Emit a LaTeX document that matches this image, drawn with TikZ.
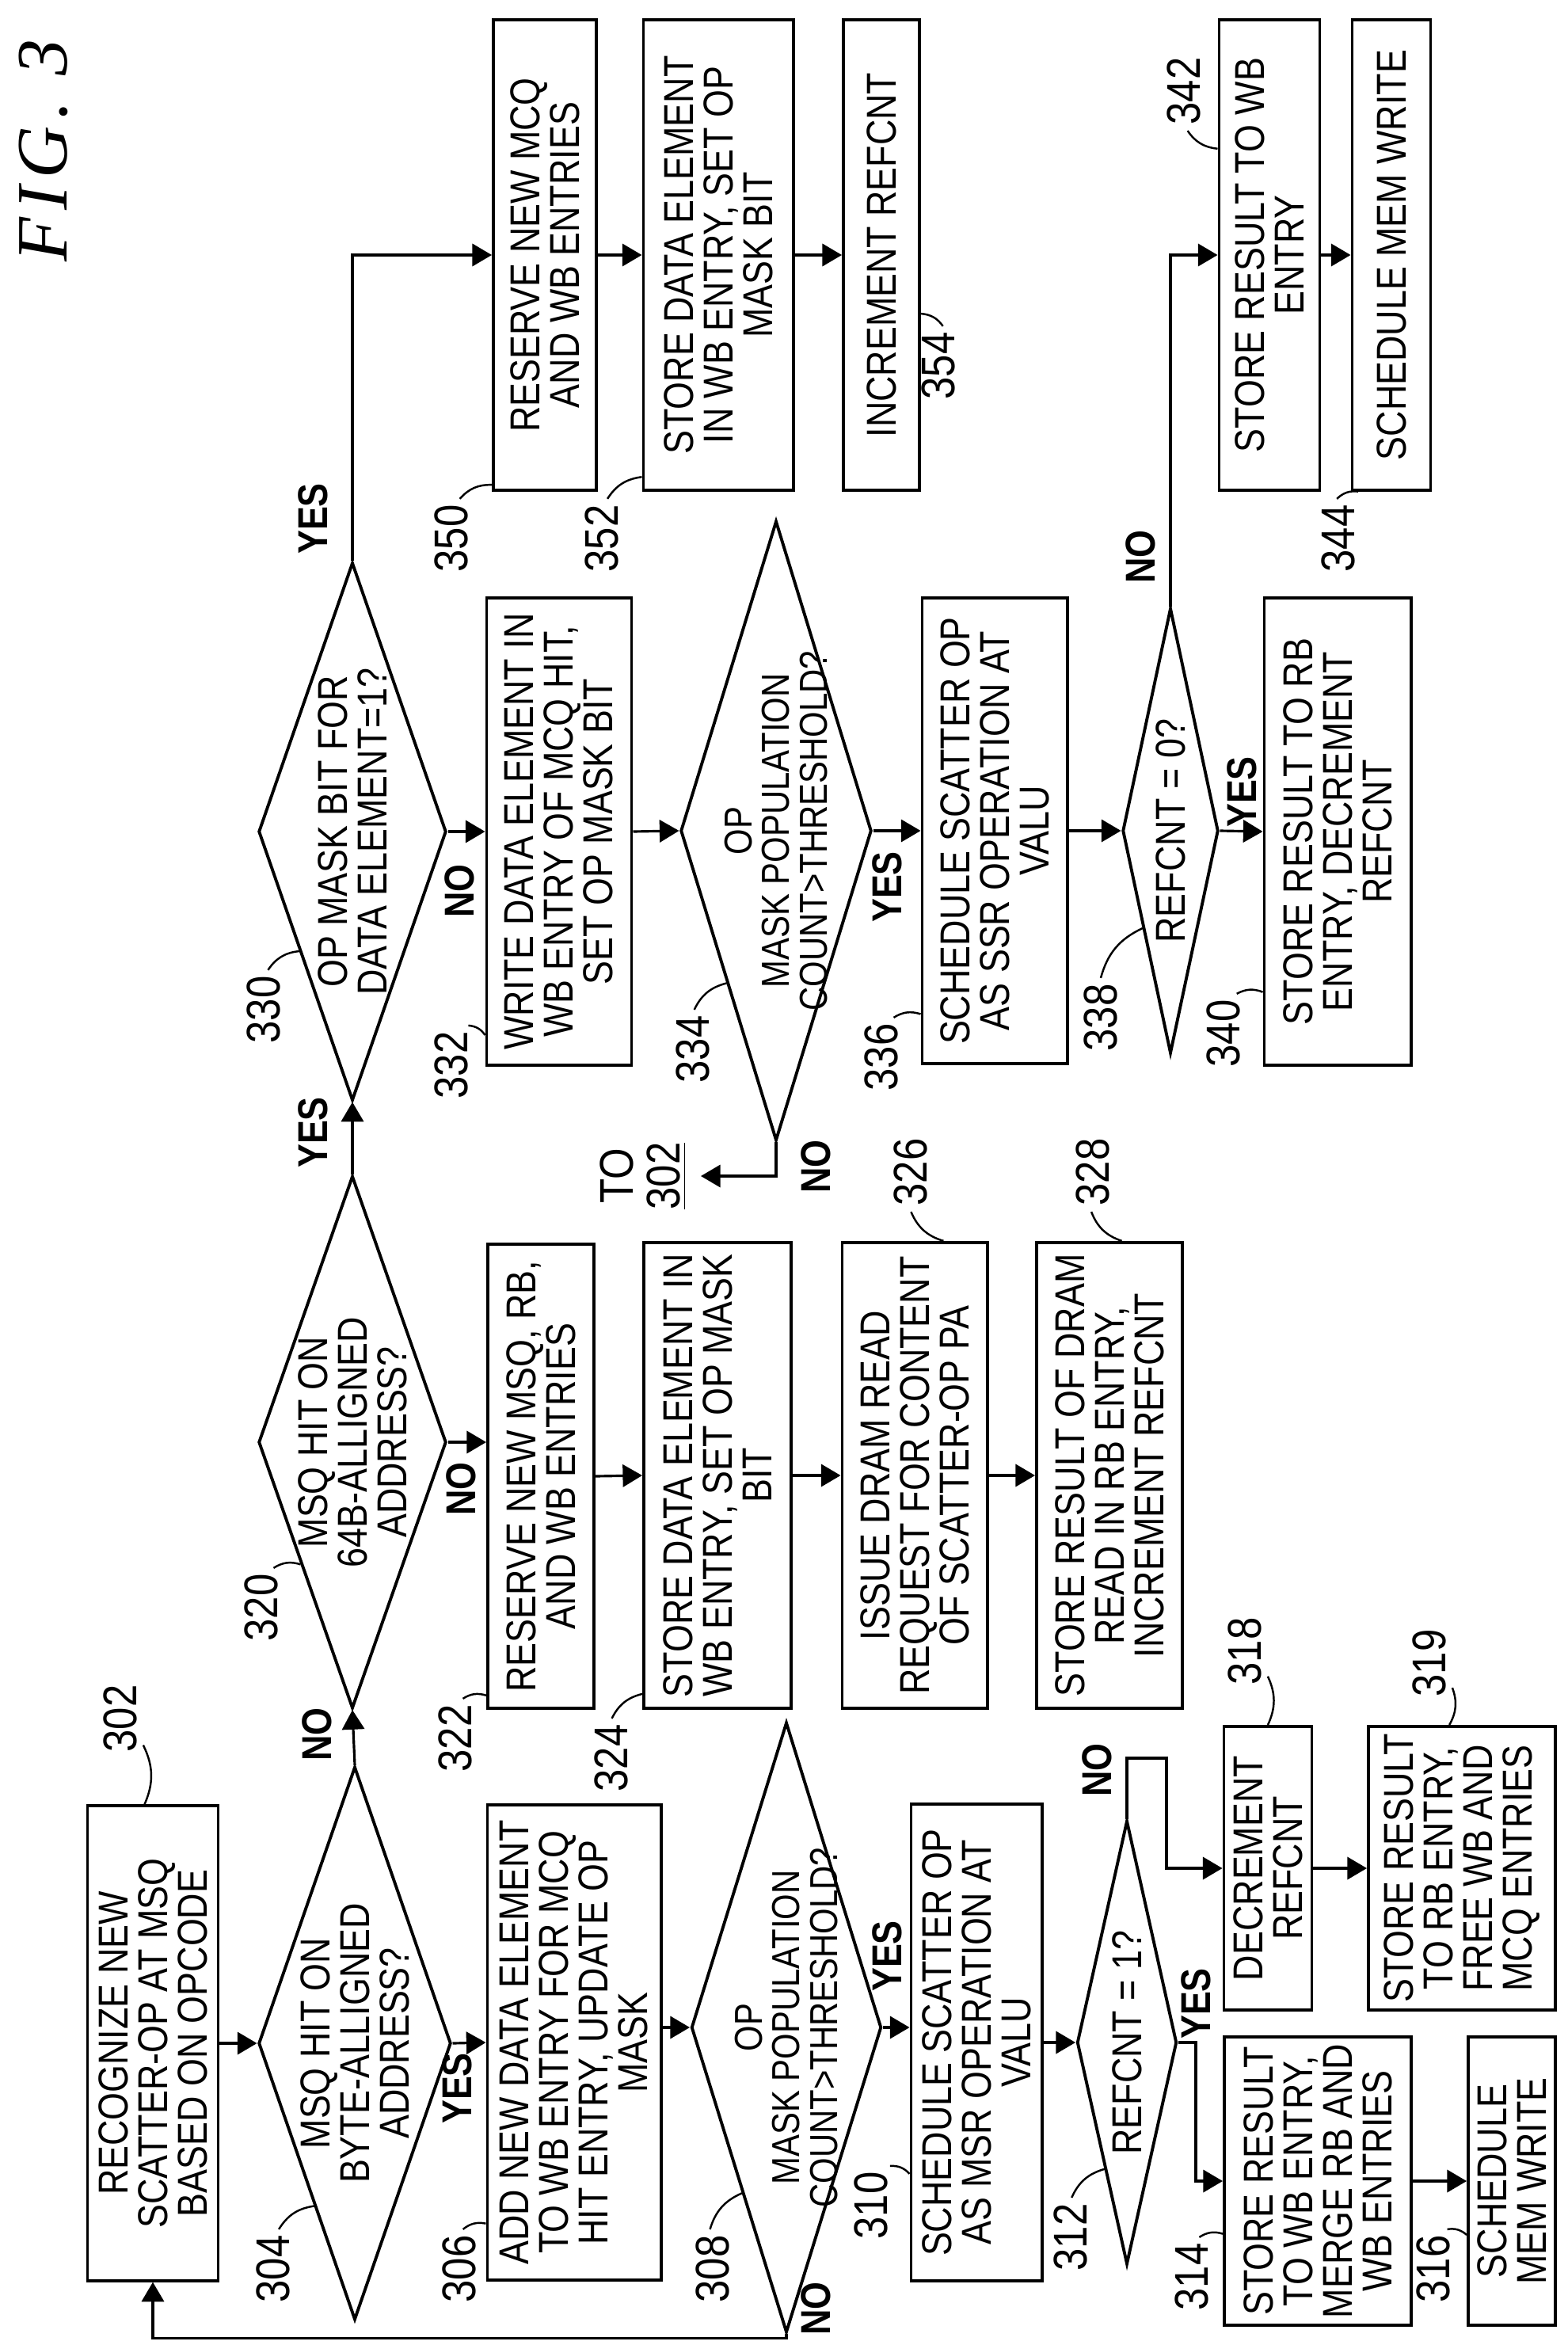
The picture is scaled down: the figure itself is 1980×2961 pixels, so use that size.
\documentclass[tikz,border=0pt]{standalone}
\usepackage{fontspec}
\setmainfont{Liberation Sans}[FakeStretch=0.85]
\newfontfamily\figfont{Liberation Serif}[LetterSpace=10]
\usetikzlibrary{shapes.geometric,arrows.meta}
\newcommand{\flowfont}{\fontsize{15}{14.2}\selectfont}
\tikzset{
  box/.style={draw, line width=1.1pt, rotate=90, align=center, inner sep=0pt, font=\flowfont},
  dia/.style={draw, diamond, line width=1.1pt, rotate=90, inner sep=0pt},
  txt/.style={rotate=90, align=center, inner sep=1pt, font=\flowfont},
  num/.style={rotate=90, inner sep=2pt, font=\fontsize{17}{17}\selectfont},
  yn/.style={rotate=90, inner sep=1pt, font=\bfseries\fontsize{15}{15}\selectfont},
  arr/.style={line width=0.9pt, -{Triangle[length=7pt,width=8pt]}},
  lead/.style={line width=0.7pt}
}
\begin{document}
\begin{tikzpicture}[x=0.01cm, y=-0.01cm]
\useasboundingbox (0,0) rectangle (1980,2961);
\node[rotate=90, font=\figfont\itshape\fontsize{26}{26}\selectfont] (fig) at (55,190) {FIG. 3};
% first row
\node[box, minimum width=5.99cm, minimum height=1.65cm] (b302) at (193,2580) {RECOGNIZE NEW\\SCATTER-OP AT MSQ\\BASED ON OPCODE};
\node[dia, minimum width=6.98cm, minimum height=2.43cm] (d304) at (448,2580) {};
\node[txt] (t304) at (d304) {MSQ HIT ON\\BYTE-ALLIGNED\\ADDRESS?};
\node[box, minimum width=6.0cm, minimum height=2.19cm] (b306) at (725,2579) {ADD NEW DATA ELEMENT\\TO WB ENTRY FOR MCQ\\HIT ENTRY, UPDATE OP\\MASK};
\node[dia, minimum width=7.7cm, minimum height=2.4cm] (d308) at (993,2560) {};
\node[txt, font=\fontsize{14}{13.5}\selectfont] (t308) at (d308) {OP\\MASK POPULATION\\COUNT>THRESHOLD?};
\node[box, minimum width=6.02cm, minimum height=1.65cm] (b310) at (1233,2579) {SCHEDULE SCATTER OP\\AS MSR OPERATION AT\\VALU};
\node[dia, minimum width=5.6cm, minimum height=1.26cm] (d312) at (1423,2579) {};
\node[txt] (t312) at (d312) {REFCNT = 1?};
\node[box, minimum width=3.63cm, minimum height=2.36cm] (b314) at (1664,2754) {STORE RESULT\\TO WB ENTRY,\\MERGE RB AND\\WB ENTRIES};
\node[box, minimum width=3.63cm, minimum height=1.1cm] (b316) at (1909,2754) {SCHEDULE\\MEM WRITE};
\node[box, minimum width=3.58cm, minimum height=1.11cm] (b318) at (1601,2359) {DECREMENT\\REFCNT};
\node[box, minimum width=3.58cm, minimum height=2.36cm] (b319) at (1846,2359) {STORE RESULT\\TO RB ENTRY,\\FREE WB AND\\MCQ ENTRIES};
% second row
\node[dia, minimum width=6.72cm, minimum height=2.37cm] (d320) at (445,1821) {};
\node[txt] (t320) at (d320) {MSQ HIT ON\\64B-ALLIGNED\\ADDRESS?};
\node[box, minimum width=5.85cm, minimum height=1.34cm] (b322) at (683,1864) {RESERVE NEW MSQ, RB,\\AND WB ENTRIES};
\node[box, minimum width=5.88cm, minimum height=1.86cm] (b324) at (906,1863) {STORE DATA ELEMENT IN\\WB ENTRY, SET OP MASK\\BIT};
\node[box, minimum width=5.88cm, minimum height=1.83cm] (b326) at (1155,1863) {ISSUE DRAM READ\\REQUEST FOR CONTENT\\OF SCATTER-OP PA};
\node[box, minimum width=5.88cm, minimum height=1.84cm] (b328) at (1401,1863) {STORE RESULT OF DRAM\\READ IN RB ENTRY,\\INCREMENT REFCNT};
% third row
\node[dia, minimum width=6.79cm, minimum height=2.37cm] (d330) at (445,1050) {};
\node[txt] (t330) at (d330) {OP MASK BIT FOR\\DATA ELEMENT=1?};
\node[box, minimum width=5.9cm, minimum height=1.83cm] (b332) at (706,1050) {WRITE DATA ELEMENT IN\\WB ENTRY OF MCQ HIT,\\SET OP MASK BIT};
\node[dia, minimum width=7.82cm, minimum height=2.41cm] (d334) at (980,1049) {};
\node[txt, font=\fontsize{14}{13.5}\selectfont] (t334) at (d334) {OP\\MASK POPULATION\\COUNT>THRESHOLD?};
\node[box, minimum width=5.88cm, minimum height=1.83cm] (b336) at (1256,1049) {SCHEDULE SCATTER OP\\AS SSR OPERATION AT\\VALU};
\node[dia, minimum width=5.62cm, minimum height=1.21cm] (d338) at (1478,1049) {};
\node[txt] (t338) at (d338) {REFCNT = 0?};
\node[box, minimum width=5.9cm, minimum height=1.85cm] (b340) at (1689,1050) {STORE RESULT TO RB\\ENTRY, DECREMENT\\REFCNT};
\node[txt, font=\fontsize{17}{17}\selectfont] (to302) at (812,1485) {TO\\\underline{302}};
\coordinate (c302) at (885,1485);
% top row
\node[box, minimum width=5.93cm, minimum height=1.3cm] (b350) at (688,322) {RESERVE NEW MCQ\\AND WB ENTRIES};
\node[box, minimum width=5.93cm, minimum height=1.89cm] (b352) at (907,322) {STORE DATA ELEMENT\\IN WB ENTRY, SET OP\\MASK BIT};
\node[box, minimum width=5.93cm, minimum height=0.96cm] (b354) at (1113,322) {INCREMENT REFCNT};
\node[box, minimum width=5.93cm, minimum height=1.27cm] (b342) at (1603,322) {STORE RESULT TO WB\\ENTRY};
\node[box, minimum width=5.93cm, minimum height=0.99cm] (b344) at (1757,322) {SCHEDULE MEM WRITE};

% connectors
\draw[arr] (b302.south) -- (d304.north);
\draw[arr] (d304.south) -- (b306.north);
\draw[arr] (b306.south |- d308.north) -- (d308.north);
\draw[arr] (d308.south) -- (d308.south -| b310.north);
\draw[arr] (b310.south) -- (d312.north);
\draw[arr] (d312.south) -- ++(22,0) |- (b314.north);
\draw[arr] (d312.east) -- ++(0,-77) -- ++(50,0) |- (b318.north);
\draw[arr] (b318.south) -- (b319.north);
\draw[arr] (b314.south) -- (b316.north);
\draw[arr] (d308.west) -- ++(0,5) -| (b302.west);
\draw[arr] (d304.east) -- (d320.west);
\draw[arr] (d320.south) -- (d320.south -| b322.north);
\draw[arr] (b322.south) -- (b324.north);
\draw[arr] (b324.south) -- (b326.north);
\draw[arr] (b326.south) -- (b328.north);
\draw[arr] (d320.east) -- (d330.west);
\draw[arr] (d330.south) -- (b332.north);
\draw[arr] (b332.south) -- (d334.north);
\draw[arr] (d334.south) -- (b336.north);
\draw[arr] (b336.south) -- (d338.north);
\draw[arr] (d338.south) -- (b340.north);
\draw[arr] (d334.west) |- (c302);
\draw[arr] (d330.east) |- (b350.north);
\draw[arr] (b350.south) -- (b352.north);
\draw[arr] (b352.south) -- (b354.north);
\draw[arr] (d338.east) |- (b342.north);
\draw[arr] (b342.south) -- (b344.north);

% yes / no
\node[yn] at (577,2637) {YES};
\node[yn] at (400,2190) {NO};
\node[yn] at (1120,2470) {YES};
\node[yn] at (1030,2915) {NO};
\node[yn] at (1510,2530) {YES};
\node[yn] at (1385,2235) {NO};
\node[yn] at (395,1430) {YES};
\node[yn] at (582,1880) {NO};
\node[yn] at (580,1125) {NO};
\node[yn] at (395,655) {YES};
\node[yn] at (1120,1120) {YES};
\node[yn] at (1030,1473) {NO};
\node[yn] at (1568,1000) {YES};
\node[yn] at (1440,703) {NO};

% reference numbers
\node[num] (n302) at (152,2170) {302};
\node[num] (n304) at (345,2865) {304};
\node[num] (n306) at (580,2865) {306};
\node[num] (n308) at (900,2865) {308};
\node[num] (n310) at (1100,2785) {310};
\node[num] (n312) at (1352,2825) {312};
\node[num] (n314) at (1505,2875) {314};
\node[num] (n316) at (1810,2865) {316};
\node[num] (n318) at (1572,2085) {318};
\node[num] (n319) at (1805,2100) {319};
\node[num] (n320) at (330,2030) {320};
\node[num] (n322) at (575,2195) {322};
\node[num] (n324) at (772,2220) {324};
\node[num] (n326) at (1150,1480) {326};
\node[num] (n328) at (1380,1480) {328};
\node[num] (n330) at (333,1275) {330};
\node[num] (n332) at (570,1345) {332};
\node[num] (n334) at (875,1325) {334};
\node[num] (n336) at (1113,1335) {336};
\node[num] (n338) at (1390,1285) {338};
\node[num] (n340) at (1545,1305) {340};
\node[num] (n342) at (1495,115) {342};
\node[num] (n344) at (1690,680) {344};
\node[num] (n350) at (570,680) {350};
\node[num] (n352) at (760,680) {352};
\node[num] (n354) at (1185,462) {354};
\draw[lead] (n302) to[bend left=25] (b302.2);
\draw[lead] (n304) to[bend left=25] (d304.166);
\draw[lead] (n306) to[bend left=25] (b306.154);
\draw[lead] (n308) to[bend left=25] (d308.165);
\draw[lead] (n310) to[bend left=25] (b310.153);
\draw[lead] (n312) to[bend left=25] (d312.170);
\draw[lead] (n314) to[bend left=25] (b314.119);
\draw[lead] (n316) to[bend left=25] (b316.140);
\draw[lead] (n318) to[bend left=25] (b318.0);
\draw[lead] (n319) to[bend left=25] (b319.5);
\draw[lead] (n320) to[bend left=25] (d320.157);
\draw[lead] (n322) to[bend left=25] (b322.166);
\draw[lead] (n324) to[bend left=25] (b324.161);
\draw[lead] (n326) to[bend right=25] (b326.-7);
\draw[lead] (n328) to[bend right=25] (b328.-3);
\draw[lead] (n330) to[bend left=25] (d330.156);
\draw[lead] (n332) to[bend left=25] (b332.160);
\draw[lead] (n334) to[bend left=25] (d334.162);
\draw[lead] (n336) to[bend left=25] (b336.158);
\draw[lead] (n338) to[bend left=25] (d338.164);
\draw[lead] (n340) to[bend left=25] (b340.155);
\draw[lead] (n342) to[bend right=25] (b342.26);
\draw[lead] (n344) to[bend left=25] (b344.172);
\draw[lead] (n350) to[bend left=25] (b350.167);
\draw[lead] (n352) to[bend left=25] (b352.161);
\draw[lead] (n354) to[bend right=25] (b354.214);
\end{tikzpicture}
\end{document}
